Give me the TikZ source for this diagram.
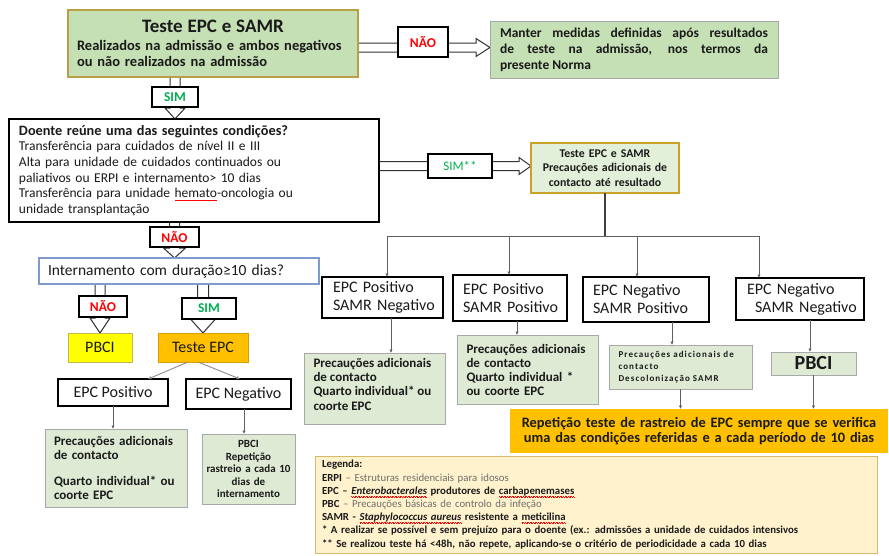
\documentclass[tikz,border=0pt]{standalone}
\usepackage{fontspec}
\setmainfont{Carlito}
\usetikzlibrary{calc,arrows.meta,backgrounds}

% spell-check style red wavy underline, built from tiny alternating rules
\newcommand\squig[1]{\setbox0\hbox{#1}\leavevmode
  \rlap{\textcolor{red}{\hbox to \wd0{\xleaders\hbox{\rule[-2.3pt]{0.8pt}{0.55pt}\rule[-3.1pt]{0.8pt}{0.55pt}}\hfill}}}\box0\relax}
% text block of fixed height, set from the top
\newcommand\topblock[3]{\parbox[c][#1][t]{#2}{\raggedright #3}}

\definecolor{gfill}{HTML}{C5E0B4}
\definecolor{gline}{HTML}{B9A048}
\definecolor{lgfill}{HTML}{DEEAD4}
\definecolor{greyline}{HTML}{A8A8A8}
\definecolor{orangefill}{HTML}{FFC000}
\definecolor{orangeline}{HTML}{D9A000}
\definecolor{yellowfill}{HTML}{FFFF00}
\definecolor{yellowline}{HTML}{C9B55A}
\definecolor{legfill}{HTML}{FFF2CC}
\definecolor{legline}{HTML}{D8B86A}
\definecolor{legtxt}{HTML}{6E6E6E}
\definecolor{nored}{HTML}{FF0000}
\definecolor{simgreen}{HTML}{00B050}
\definecolor{blueline}{HTML}{7E9ACF}
\definecolor{txt}{HTML}{1A1A1A}
\definecolor{conn}{HTML}{606060}
\definecolor{tstfill}{HTML}{E2EFD9}
\definecolor{tstline}{HTML}{C9A227}

% hollow block arrow pointing down: start, end, half shaft, half head, head length
\newcommand\blkdown[5]{%
  \path (#1) coordinate (bs);
  \path (#2) coordinate (be);
  \draw[blockarr] ($(bs)+(-#3,0)$) -- ($(be)+(-#3,-#5)$) -- ($(be)+(-#4,-#5)$) -- (be)
    -- ($(be)+(#4,-#5)$) -- ($(be)+(#3,-#5)$) -- ($(bs)+(#3,0)$);}
% hollow block arrow pointing right
\newcommand\blkright[5]{%
  \path (#1) coordinate (bs);
  \path (#2) coordinate (be);
  \draw[blockarr] ($(bs)+(0,-#3)$) -- ($(be)+(-#5,-#3)$) -- ($(be)+(-#5,-#4)$) -- (be)
    -- ($(be)+(-#5,#4)$) -- ($(be)+(-#5,#3)$) -- ($(bs)+(0,#3)$);}

\tikzset{
  every node/.style={inner sep=0pt, outer sep=0pt, anchor=north west, text=txt},
  box/.style={draw=black, line width=1.3pt},
  greenbox/.style={draw=greyline, fill=lgfill, line width=1pt},
  lab/.style={draw=black, fill=white, line width=1.2pt, font=\fontsize{13.5}{15}\selectfont\bfseries},
  blockarr/.style={draw=black!80, fill=white, line width=1pt, line join=miter},
  thinarr/.style={draw=conn, line width=0.9pt, -{Latex[length=3.5pt,width=3.5pt]}},
  lightarr/.style={draw=black!45, line width=0.9pt, -{Latex[length=3.5pt,width=3.5pt]}},
  big/.style={font=\fontsize{16}{18}\selectfont},
}

\begin{document}
\begin{tikzpicture}[x=1pt,y=-1pt]
\useasboundingbox (0,0) rectangle (889,555);

% ---------- top: admission test ----------
\node[draw=gline, fill=gfill, line width=1.3pt, minimum width=290, minimum height=67,
      text width=272, align=left, font=\fontsize{14.5}{16.5}\selectfont\bfseries] (top) at (68,10)
  {\makebox[272pt]{\fontsize{19}{20}\selectfont Teste EPC e SAMR}\\[1pt]
   Realizados na admissão e ambos negativos\\ ou não realizados na admissão};

\node[lab, minimum width=50, minimum height=30, text=nored] (naoA) at (398,27) {NÃO};

\node[draw=greyline, fill=gfill, line width=1pt, minimum width=288, minimum height=57,
      text width=268, align=justify, font=\fontsize{13.5}{16}\selectfont\bfseries] (right) at (490,21)
  {Manter medidas definidas após resultados\linebreak de teste na admissão, nos termos da\linebreak presente Norma};

\node[lab, minimum width=46, minimum height=20, text=simgreen] (sim1) at (152,87) {SIM};

% ---------- conditions ----------
\node[box, minimum width=370, minimum height=103, text width=350, align=left,
      font=\fontsize{13.5}{15.6}\selectfont] (doente) at (9,119)
  {{\fontsize{14.3}{15.6}\selectfont\bfseries Doente reúne uma das seguintes condições?}\\
   Transferência para cuidados de nível II e III\\
   Alta para unidade de cuidados continuados ou\\
   paliativos ou ERPI e internamento> 10 dias\\
   Transferência para unidade \squig{hemato}-oncologia ou\\
   unidade transplantação};

\node[draw=black, fill=white, line width=1.2pt, minimum width=64, minimum height=24,
      text=simgreen, font=\fontsize{13}{15}\selectfont] (simss) at (428,154) {SIM**};

\node[draw=tstline, fill=tstfill, line width=1.3pt, minimum width=148, minimum height=50,
      text width=144, align=center, font=\fontsize{11.8}{14.5}\selectfont\bfseries] (tst) at (531,143)
  {Teste EPC e SAMR\\ Precauções adicionais de\\ contacto até resultado};

% ---------- left branch ----------
\node[lab, minimum width=49, minimum height=20, text=nored] (naoB) at (150,227) {NÃO};

\node[draw=blueline, line width=1.3pt, minimum width=280, minimum height=26, text width=262,
      align=left, font=\fontsize{15.5}{17}\selectfont] (intern) at (39,258)
  {Internamento com duração≥10 dias?};

\node[lab, minimum width=48, minimum height=21, text=nored] (naoC) at (79,296) {NÃO};
\node[lab, minimum width=54, minimum height=21, text=simgreen] (simC) at (182,298) {SIM};

\node[draw=yellowline, fill=yellowfill, line width=1pt, minimum width=64, minimum height=29, big] (pbci) at (68,333) {PBCI};
\node[draw=orangeline, fill=orangefill, line width=1pt, minimum width=90, minimum height=29, big] (testeepc) at (158,333) {Teste EPC};

\node[box, minimum width=110, minimum height=27, big] (epcpos) at (58,379) {EPC Positivo};
\node[box, minimum width=105, minimum height=30, big] (epcneg) at (186,379) {EPC Negativo};

\node[greenbox, minimum width=142, minimum height=78, text width=124, align=left,
      font=\fontsize{13}{13.3}\selectfont\bfseries] (greenL) at (45,429)
  {Precauções adicionais\\ de contacto\\[13.5pt] Quarto individual* ou\\ coorte EPC};
\node[greenbox, minimum width=93, minimum height=70, text width=90, align=center,
      font=\fontsize{11}{12.5}\selectfont\bfseries] (greenLb) at (202,434)
  {PBCI\\ Repetição\\ rastreio a cada 10\\ dias de\\ internamento};

% ---------- right branch: four results ----------
\node[box, minimum width=121, minimum height=41, text width=99, align=left, big] (bA) at (322,277)
  {\mbox{EPC Positivo}\\ \mbox{SAMR Negativo}};
\node[box, minimum width=114, minimum height=46, text width=94, align=left, big] (bB) at (453,275)
  {\mbox{EPC Positivo}\\ \mbox{SAMR Positivo}};
\node[box, minimum width=126, minimum height=45, text width=106, align=left, big] (bC) at (583,277)
  {\mbox{EPC Negativo}\\ \mbox{SAMR Positivo}};
\node[box, minimum width=128, minimum height=42, text width=106, align=left, big] (bD) at (736,278)
  {\mbox{EPC Negativo}\\ \mbox{\hspace*{8pt}SAMR Negativo}};

\node[greenbox, minimum width=141, minimum height=71,
      font=\fontsize{13}{14.3}\selectfont\bfseries] (gA) at (304,353)
  {\topblock{71pt}{122pt}{\vspace{5pt}Precauções adicionais\\ de contacto\\ Quarto individual* ou\\ coorte EPC}};
\node[greenbox, minimum width=141, minimum height=69, text width=122, align=left,
      font=\fontsize{13}{14}\selectfont\bfseries] (gB) at (457,335)
  {Precauções adicionais\\ de contacto\\ Quarto individual *\\ ou coorte EPC};
\node[greenbox, minimum width=143, minimum height=44, text width=124, align=left,
      font=\fontsize{9}{12}\selectfont\bfseries\addfontfeature{LetterSpace=12}] (gC) at (609,345)
  {Precauções adicionais de\\ contacto\\ Descolonização SAMR};
\node[greenbox, minimum width=85, minimum height=23, font=\fontsize{20}{22}\selectfont\bfseries] (gD) at (771,352) {PBCI};

\node[fill=orangefill, minimum width=378, minimum height=44,
      text width=370, align=center, font=\fontsize{14.4}{15.5}\selectfont\bfseries] (orange) at (510,409)
  {Repetição teste de rastreio de EPC sempre que se verifica\\ uma das condições referidas e a cada período de 10 dias};

% ---------- legend ----------
\node[draw=legline, fill=legfill, line width=1pt, minimum width=562, minimum height=97,
      text width=548, align=left, font=\fontsize{10.8}{13.2}\selectfont] (legend) at (315,456)
  {\textbf{Legenda:}\\
   \textbf{ERPI} {\color{legtxt}– Estruturas residenciais para idosos}\\
   \textbf{EPC – \squig{\itshape Enterobacterales} produtores de \squig{carbapenemases}}\\
   \textbf{PBC} {\color{legtxt}– Precauções básicas de controlo da infeção}\\
   \textbf{SAMR - \squig{\itshape Staphylococcus aureus} resistente a \squig{meticilina}}\\
   \textbf{* A realizar se possível e sem prejuízo para o doente (ex.: admissões a unidade de cuidados intensivos}\\
   \textbf{** Se realizou teste há <48h, não repete, aplicando-se o critério de periodicidade a cada 10 dias}};

% ---------- hollow block arrows behind the labels ----------
\begin{scope}[on background layer]
  \fill[white] (0,0) rectangle (889,555);
  \blkdown{sim1 |- top.south}{sim1 |- doente.north}{5}{10}{11}
  \blkright{$(top.east)+(0,4)$}{right.west |- bs}{4.5}{9}{14}
  \blkright{doente.east |- simss}{tst.west |- simss}{4.5}{8.5}{12}
  \blkdown{naoB |- doente.south}{naoB |- intern.north}{5}{11}{10}
  \blkdown{pbci |- intern.south}{pbci.north}{5}{10}{15}
  \blkdown{testeepc |- intern.south}{testeepc.north}{5.5}{12.5}{14}
\end{scope}

% ---------- thin connectors ----------
\coordinate (hub) at ($(tst.south)+(0,43)$);
\draw[line width=2.4pt, draw=black!75] (tst.south) -- (hub);
\draw[thinarr] (hub) -| ([xshift=65]bA.north west);
\draw[thinarr] (hub) -| ([xshift=56]bB.north west);
\draw[thinarr] (hub) -| ([xshift=54]bC.north west);
\draw[thinarr] (hub) -| ([xshift=23]bD.north west);

\coordinate (dA) at ([xshift=69]bA.south west);
\coordinate (dB) at ([xshift=64]bB.south west);
\coordinate (dC) at ([xshift=89]bC.south west);
\coordinate (dD) at ([xshift=74]bD.south west);
\draw[thinarr] (dA) -- (dA |- gA.north);
\draw[thinarr] (dB) -- (dB |- gB.north);
\draw[thinarr] (dC) -- (dC |- gC.north);
\draw[thinarr] (dD) -- (dD |- gD.north);
\draw[thinarr] (gC.south) -- (gC.south |- orange.north);
\draw[thinarr] (gD.south) -- (gD.south |- orange.north);

\draw[lightarr] ([xshift=30]testeepc.south west) -- ([xshift=90]epcpos.north west);
\draw[lightarr] ([xshift=40]testeepc.south west) -- ([xshift=54]epcneg.north west);
\coordinate (dN) at ([xshift=58]epcneg.south west);
\draw[thinarr] (epcpos.south) -- (epcpos.south |- greenL.north);
\draw[thinarr] (dN) -- (dN |- greenLb.north);
\end{tikzpicture}
\end{document}
